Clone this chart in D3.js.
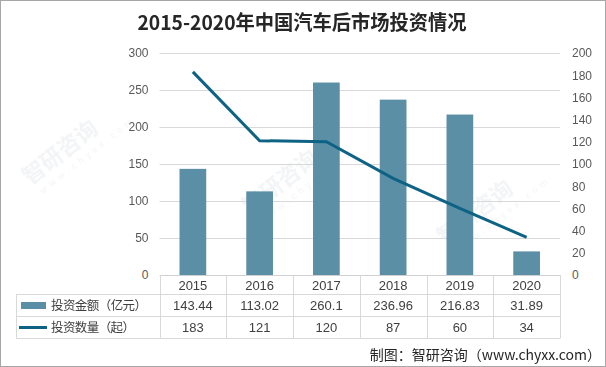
<!DOCTYPE html>
<html><head><meta charset="utf-8">
<script src="https://cdn.jsdelivr.net/npm/d3@7"></script>
<style>
html,body{margin:0;padding:0;background:#fff;}
svg{display:block;}
</style></head>
<body>
<svg id="c" width="606" height="367"></svg>
<script>
const title = "2015-2020年中国汽车后市场投资情况";
const years = ["2015","2016","2017","2018","2019","2020"];
const amount = [143.44, 113.02, 260.1, 236.96, 216.83, 31.89];
const amountLabels = ["143.44","113.02","260.1","236.96","216.83","31.89"];
const count = [183, 121, 120, 87, 60, 34];
const leftTicks = [0,50,100,150,200,250,300];
const rightTicks = [0,20,40,60,80,100,120,140,160,180,200];
const seriesNames = ["投资金额（亿元）","投资数量（起）"];
const source = "制图：智研咨询（www.chyxx.com）";

const barColor = "#5A8FA6", lineColor = "#0E6384";
const svg = d3.select("#c");
const font = "'Noto Sans CJK SC','Noto Sans',sans-serif";

// border
svg.append("rect").attr("x",0.5).attr("y",0.5).attr("width",605).attr("height",366)
  .attr("fill","#fff").attr("stroke","#A6A6A6");

// watermarks (kept away from edges and other texts)
const wm = [[30,185],[250,215],[445,245]];
const wg = svg.append("g").attr("opacity",0.45);
wm.forEach(([x,y])=>{
  const g = wg.append("g").attr("transform",`translate(${x},${y}) rotate(-38)`);
  g.append("text").attr("x",0).attr("y",0).attr("font-family",font).attr("font-weight","bold")
    .attr("font-size",22).attr("fill","#E3E6EA").text("智研咨询");
  g.append("text").attr("x",4).attr("y",15).attr("font-family",font)
    .attr("font-size",9).attr("letter-spacing",4).attr("fill","#E3E6EA").text("www.chyxx.com");
});

// title
svg.append("text").attr("x",302).attr("y",30).attr("text-anchor","middle")
  .attr("font-family",font).attr("font-weight","bold").attr("font-size",20)
  .attr("fill","#262626").attr("textLength",329).attr("lengthAdjust","spacingAndGlyphs").text(title);

const x0 = 159.5, x1 = 560;
const yTop = 53, yBot = 275;
const x = d3.scaleBand().domain(years).range([x0,x1]).padding(0);
const yL = d3.scaleLinear().domain([0,300]).range([yBot,yTop]);
const yR = d3.scaleLinear().domain([0,200]).range([yBot,yTop]);

// gridlines
svg.append("g").selectAll("line").data(leftTicks.filter(d=>d>0)).join("line")
  .attr("x1",x0).attr("x2",x1).attr("y1",d=>Math.round(yL(d))+0.5).attr("y2",d=>Math.round(yL(d))+0.5)
  .attr("stroke","#D9D9D9");

// left axis
const la = svg.append("g").attr("transform",`translate(${x0},0)`)
  .call(d3.axisLeft(yL).tickValues(leftTicks).tickSize(0).tickPadding(11));
la.select(".domain").remove();
la.selectAll("text").attr("font-family","'Liberation Sans',Arial,sans-serif").attr("font-size",12).attr("fill","#595959");

// right axis
const ra = svg.append("g").attr("transform",`translate(${x1},0)`)
  .call(d3.axisRight(yR).tickValues(rightTicks).tickSize(0).tickPadding(12));
ra.select(".domain").remove();
ra.selectAll("text").attr("font-family","'Liberation Sans',Arial,sans-serif").attr("font-size",12).attr("fill","#595959");

// bars
const bw = x.bandwidth()*0.4;
svg.append("g").selectAll("rect").data(amount).join("rect")
  .attr("x",(d,i)=>x(years[i])+x.bandwidth()/2-bw/2)
  .attr("y",d=>yL(d)).attr("width",bw).attr("height",d=>yBot-yL(d))
  .attr("fill",barColor);

// line
svg.append("path").datum(count)
  .attr("d",d3.line().x((d,i)=>x(years[i])+x.bandwidth()/2).y(d=>yR(d)))
  .attr("fill","none").attr("stroke",lineColor).attr("stroke-width",3);

// table grid
const rowLines = [294.5, 316.5, 338.5];
const tg = svg.append("g").attr("stroke","#D9D9D9").attr("fill","none");
tg.append("line").attr("x1",x0).attr("x2",x1).attr("y1",yBot+0.5).attr("y2",yBot+0.5).attr("stroke","#D0D0D0");
rowLines.forEach(yy=>tg.append("line").attr("x1",16).attr("x2",x1).attr("y1",yy).attr("y2",yy));
tg.append("line").attr("x1",16.5).attr("x2",16.5).attr("y1",rowLines[0]).attr("y2",rowLines[2]);
const bounds = years.map(y=>x(y)).concat([x1]);
bounds.forEach(b=>tg.append("line").attr("x1",Math.round(b)+0.5).attr("x2",Math.round(b)+0.5).attr("y1",yBot).attr("y2",rowLines[2]));

const cellFont = "'Liberation Sans',Arial,sans-serif";
svg.append("g").selectAll("text").data(years).join("text")
  .attr("x",d=>x(d)+x.bandwidth()/2).attr("y",290).attr("text-anchor","middle")
  .attr("font-family",cellFont).attr("font-size",13).attr("fill","#404040").text(d=>d);
svg.append("g").selectAll("text").data(amountLabels).join("text")
  .attr("x",(d,i)=>x(years[i])+x.bandwidth()/2).attr("y",310).attr("text-anchor","middle")
  .attr("font-family",cellFont).attr("font-size",13).attr("fill","#404040").text(d=>d);
svg.append("g").selectAll("text").data(count).join("text")
  .attr("x",(d,i)=>x(years[i])+x.bandwidth()/2).attr("y",332).attr("text-anchor","middle")
  .attr("font-family",cellFont).attr("font-size",13).attr("fill","#404040").text(d=>d);

// legend keys
svg.append("rect").attr("x",21).attr("y",302).attr("width",25).attr("height",7).attr("fill",barColor);
svg.append("line").attr("x1",19).attr("x2",47).attr("y1",327.5).attr("y2",327.5)
  .attr("stroke",lineColor).attr("stroke-width",3);
svg.append("text").attr("x",51).attr("y",310).attr("font-family",font).attr("font-size",12.5)
  .attr("fill","#404040").attr("textLength",96).text(seriesNames[0]);
svg.append("text").attr("x",51).attr("y",332).attr("font-family",font).attr("font-size",12.5)
  .attr("fill","#404040").attr("textLength",84).text(seriesNames[1]);

// source
svg.append("text").attr("x",601).attr("y",360).attr("text-anchor","end")
  .attr("font-family",font).attr("font-size",14).attr("fill","#262626").text(source);
</script>
</body></html>
